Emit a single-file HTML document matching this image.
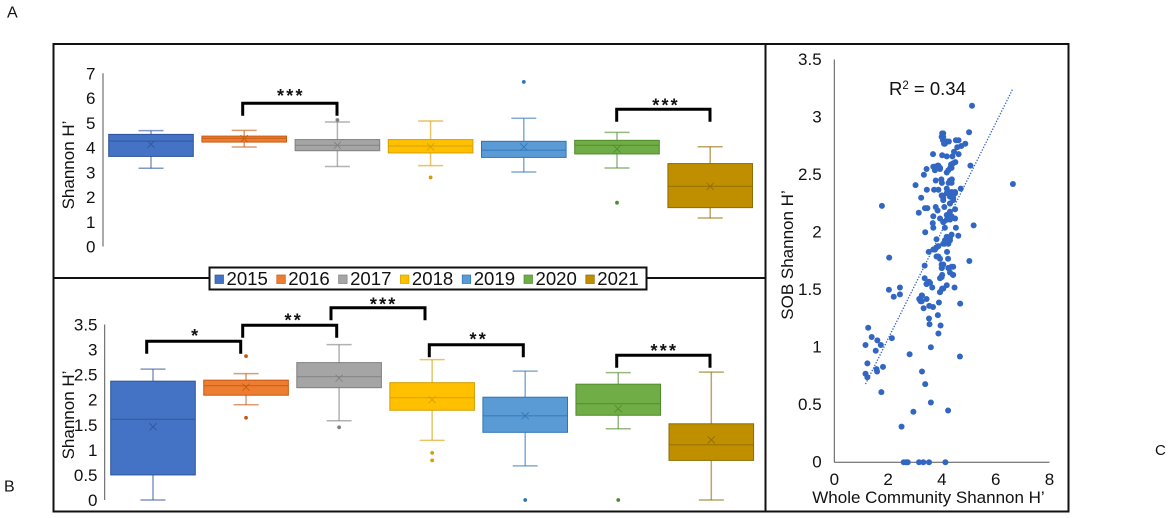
<!DOCTYPE html>
<html lang="en">
<head>
<meta charset="utf-8">
<title>Shannon diversity figure</title>
<style>
html,body{margin:0;padding:0;background:#fff;}
body{width:1169px;height:518px;overflow:hidden;}
svg{display:block;font-family:"Liberation Sans",Arial,sans-serif;fill:#111;filter:blur(0.3px);}
text{fill:#111;}
</style>
</head>
<body>
<svg id="fig" width="1169" height="518" viewBox="0 0 1169 518" xmlns="http://www.w3.org/2000/svg">
  <rect x="0" y="0" width="1169" height="518" fill="#fff"/>
  <text x="7" y="17.5" font-size="16">A</text>
  <text x="4" y="491.5" font-size="16">B</text>
  <text x="1155" y="455" font-size="15">C</text>
  <rect x="53.5" y="44" width="1015" height="467.5" fill="none" stroke="#111" stroke-width="2"/>
  <line x1="765.5" y1="44" x2="765.5" y2="511" stroke="#111" stroke-width="2"/>
  <line x1="53" y1="278" x2="765" y2="278" stroke="#111" stroke-width="2"/>

  <g id="top-chart"></g>
  <g id="bottom-chart"></g>
  <g id="scatter-chart"></g>

  <text transform="translate(74,165) rotate(-90)" text-anchor="middle" x="0" y="0" font-size="17">Shannon H’</text>
  <text transform="translate(74,415) rotate(-90)" text-anchor="middle" x="0" y="0" font-size="17">Shannon H’</text>
  <text transform="translate(793,255) rotate(-90)" text-anchor="middle" x="0" y="0" font-size="17">SOB Shannon H’</text>
  <text x="928.5" y="503" text-anchor="middle" font-size="17">Whole Community Shannon H’</text>
  <text x="889" y="95" font-size="18.5">R<tspan font-size="11.5" dy="-6">2</tspan><tspan dy="6"> = 0.34</tspan></text>

  <g id="legend">
    <rect x="209.5" y="267.5" width="437" height="22" fill="#fff" stroke="#111" stroke-width="2"/>
  </g>
</svg>
<script>
// ---- shared categories and colours ----
var years = ['2015','2016','2017','2018','2019','2020','2021'];
var fills = ['#4472c4','#ed7d31','#a5a5a5','#ffc000','#5b9bd5','#70ad47','#bf8f00'];
var edges = ['#2f5597','#c55a11','#7f7f7f','#d39f00','#2e75b6','#4f8a2c','#8f6b00'];

// ---- panel A (top boxplot) ----
var topTicks = ['0','1','2','3','4','5','6','7'];
var topQ3 = [4.53,4.46,4.32,4.32,4.25,4.29,3.35];
var topQ1 = [3.64,4.22,3.87,3.78,3.60,3.74,1.57];
var topMedian = [4.26,4.37,4.09,4.06,3.89,4.09,2.43];
var topMean = [4.13,4.36,4.09,4.03,4.02,3.94,2.43];
var topWhiskerHigh = [4.68,4.69,5.03,5.07,5.18,4.61,4.03];
var topWhiskerLow = [3.16,4.02,3.23,3.27,3.01,3.17,1.15];
var topOutliers = [[],[],[5.11],[2.79],[6.65],[1.77],[]];

// ---- panel B (bottom boxplot) ----
var bottomTicks = ['0','0.5','1','1.5','2','2.5','3','3.5'];
var bottomQ3 = [2.37,2.39,2.74,2.34,2.05,2.31,1.52];
var bottomQ1 = [0.50,2.09,2.24,1.79,1.35,1.69,0.79];
var bottomMedian = [1.61,2.28,2.46,2.04,1.68,1.92,1.10];
var bottomMean = [1.46,2.25,2.43,2.00,1.68,1.82,1.20];
var bottomWhiskerHigh = [2.61,2.52,3.10,2.80,2.57,2.54,2.55];
var bottomWhiskerLow = [0,1.90,1.58,1.19,0.68,1.42,0];
var bottomOutliers = [[],[2.87,1.64],[1.45],[0.94,0.79],[0],[0],[]];

// ---- panel C (scatter) ----
var scatterXTicks = ['0','2','4','6','8'];
var scatterYTicks = ['0','0.5','1','1.5','2','2.5','3','3.5'];
var trendWhole = [1.16,6.62];
var trendSob = [0.68,3.24];
var wholeCommunity = [
1.16,1.26,1.39,1.60,1.73,1.54,1.23,1.16,1.23,1.57,1.59,1.81,1.75,2.14,2.03,2.21,2.44,2.44,2.80,3.26,
3.38,3.59,4.23,2.94,2.50,4.67,3.59,3.95,3.87,3.54,3.52,3.85,3.89,4.68,3.32,3.53,3.67,3.16,3.21,3.26,
3.43,3.36,3.43,3.52,3.64,3.93,4.01,4.18,4.47,3.97,4.01,4.30,4.41,2.58,2.67,2.73,3.15,3.31,3.52,4.13,
5.12,5.01,4.01,3.99,4.04,4.08,4.18,4.26,4.52,4.62,4.87,4.72,4.57,4.45,4.62,4.39,4.18,4.01,3.67,4.50,
4.34,4.31,4.18,5.06,3.43,3.33,3.68,3.84,3.93,3.74,3.77,3.98,4.00,4.37,4.25,4.18,3.02,3.44,3.71,3.87,
4.01,4.05,4.18,4.36,4.49,4.30,4.42,4.30,4.70,6.64,3.23,1.77,3.37,3.46,3.14,3.77,3.84,4.09,3.68,4.49,
4.30,4.18,4.36,3.93,4.05,4.18,4.49,5.18,3.66,3.68,4.11,4.52,3.38,4.18,4.36,4.61,4.11,4.30,3.80,4.05,
3.87,3.74,3.51,3.68,4.19,2.04,3.80,3.93,4.23,5.02,3.36,4.05,4.00,4.24,4.42,
4.24,4.36,4.42,4.30,4.49,4.36,4.30,3.99,4.05,4.05,4.11,4.18,4.05,4.36,4.24,4.42,3.87,3.74,3.93,
4.24,4.05,4.30,4.18,4.30,4.11,4.24,3.81,3.74,3.87,4.36,4.24,4.42,3.99,3.99,3.99,3.93,3.56,3.43,3.93,4.05,3.25,3.16,3.25
];
var sobShannon = [
1.02,1.17,1.09,1.06,1.02,0.97,0.86,0.77,0.74,0.81,0.79,0.83,0.61,1.08,1.50,1.44,1.52,1.46,0.94,0.79,
0.68,0.52,0.45,0.44,0.31,0.92,1.00,1.19,1.12,1.20,1.25,1.28,1.39,1.38,1.34,1.36,1.35,1.42,1.40,1.45,
1.42,1.60,1.55,1.57,1.52,1.48,1.51,1.54,1.52,1.61,1.63,1.65,1.63,0,0,0,0,0,0,0,
3.10,2.87,2.86,2.83,2.80,2.77,2.79,2.79,2.80,2.80,2.77,2.75,2.74,2.70,2.68,2.66,2.66,2.67,2.68,2.61,
2.59,2.56,2.52,2.58,2.55,2.50,2.57,2.58,2.55,2.54,2.45,2.46,2.43,2.46,2.43,2.38,2.41,2.37,2.37,2.37,
2.32,2.30,2.34,2.35,2.34,2.31,2.28,2.25,2.38,2.42,2.30,2.23,2.21,2.21,2.17,2.22,2.19,2.22,2.14,2.20,
2.18,2.15,2.14,2.12,2.09,2.11,2.12,2.06,2.08,2.04,2.04,2.04,2.00,1.96,1.98,1.97,1.93,1.93,1.94,1.90,
1.88,1.85,1.83,1.85,1.83,1.78,1.79,1.77,1.77,1.75,1.71,1.72,1.69,1.69,1.70,
2.35,2.32,2.30,2.25,2.35,2.43,2.45,2.32,2.28,2.83,2.77,2.79,2.86,2.56,2.54,2.60,2.58,2.57,2.56,
2.15,2.09,2.11,1.96,1.95,1.90,1.90,1.87,1.85,1.79,1.70,1.69,1.63,1.72,1.69,1.61,1.60,1.56,1.55,1.48,1.51,1.45,1.42,1.40
];

var NS = 'http://www.w3.org/2000/svg';
function mk(parent, tag, attrs, txt) {
  var el = document.createElementNS(NS, tag);
  for (var k in attrs) { el.setAttribute(k, attrs[k]); }
  if (txt !== undefined) { el.textContent = txt; }
  parent.appendChild(el);
  return el;
}

function drawBoxPanel(g, cfg) {
  function yScale(v) { return cfg.y0 - v * cfg.unit; }
  function xScale(i) { return cfg.x0 + i * cfg.step; }

  var axis = mk(g, 'line', {x1: cfg.axisX, x2: cfg.axisX, y1: yScale(cfg.axisMax), y2: yScale(0), stroke: '#555', 'stroke-width': 1});
  
  

  cfg.ticks.forEach(function (label) {
    var t = mk(g, 'text', {x: cfg.labelX, y: yScale(parseFloat(label)) + 6, 'text-anchor': 'end', 'font-size': 17}, label);
    
    
  });

  years.forEach(function (year, i) {
    var cx = xScale(i), hw = 42.3, capHw = 12.5;
    var group = mk(g, 'g', {});
    
    

    var stem = mk(group, 'line', {x1: cx, x2: cx, y1: yScale(cfg.whiskerHigh[i]), y2: yScale(cfg.whiskerLow[i]), stroke: edges[i], 'stroke-width': 1.5, 'stroke-opacity': 0.6});
    
    

    [cfg.whiskerHigh[i], cfg.whiskerLow[i]].forEach(function (v) {
      var cap = mk(group, 'line', {x1: cx - capHw, x2: cx + capHw, y1: yScale(v), y2: yScale(v), stroke: edges[i], 'stroke-width': 1.5, 'stroke-opacity': 0.6});
      
      
    });

    var box = mk(group, 'rect', {x: cx - hw, y: yScale(cfg.q3[i]), width: hw * 2, height: yScale(cfg.q1[i]) - yScale(cfg.q3[i]), fill: fills[i], stroke: edges[i], 'stroke-width': 1});
    
    

    var med = mk(group, 'line', {x1: cx - hw, x2: cx + hw, y1: yScale(cfg.median[i]), y2: yScale(cfg.median[i]), stroke: edges[i], 'stroke-width': 1.1, 'stroke-opacity': 0.8});
    
    

    var my = yScale(cfg.mean[i]), s = 3.6;
    var mean = mk(group, 'path', {d: 'M' + (cx - s) + ' ' + (my - s) + 'L' + (cx + s) + ' ' + (my + s) + 'M' + (cx - s) + ' ' + (my + s) + 'L' + (cx + s) + ' ' + (my - s), stroke: edges[i], 'stroke-width': 0.8, fill: 'none'});
    
    

    cfg.outliers[i].forEach(function (v) {
      var o = mk(group, 'circle', {cx: cx, cy: yScale(v), r: 1.9, fill: edges[i]});
      
      
    });
  });
}

drawBoxPanel(document.getElementById('top-chart'), {
  y0: 246.5, unit: 24.75, x0: 151, step: 93.2, axisX: 103, axisMax: 7, labelX: 95.5,
  ticks: topTicks, q3: topQ3, q1: topQ1, median: topMedian, mean: topMean,
  whiskerHigh: topWhiskerHigh, whiskerLow: topWhiskerLow, outliers: topOutliers
});
drawBoxPanel(document.getElementById('bottom-chart'), {
  y0: 500, unit: 50.14, x0: 153, step: 93.05, axisX: 104.7, axisMax: 3.5, labelX: 97.5,
  ticks: bottomTicks, q3: bottomQ3, q1: bottomQ1, median: bottomMedian, mean: bottomMean,
  whiskerHigh: bottomWhiskerHigh, whiskerLow: bottomWhiskerLow, outliers: bottomOutliers
});

// ---- significance brackets ----
var bracketLeft = [242.7,616.7,146.7,242.7,331,429.3,616.7];
var bracketRight = [337,710,240.7,336.7,425,523.3,710];
var bracketTop = [103.3,109.3,341.3,325.3,307.7,344.7,355.3];
var bracketStars = ['***','***','*','**','***','**','***'];
var bracketStarShiftX = [1,2.7,2,4,5.7,2.4,1];
var bracketStarShiftY = [-1.3,2.1,0.7,1.1,2.7,1,1.7];
var svgRoot = document.getElementById('fig');
bracketLeft.forEach(function (l, i) {
  var r = bracketRight[i], t = bracketTop[i];
  var b = mk(svgRoot, 'path', {d: 'M' + l + ' ' + (t + 12.5) + 'V' + t + 'H' + r + 'V' + (t + 12.5), fill: 'none', stroke: '#000', 'stroke-width': 3});
  
  
  var st = mk(svgRoot, 'text', {x: (l + r) / 2 + bracketStarShiftX[i], y: t + bracketStarShiftY[i], 'text-anchor': 'middle', 'font-size': 18, 'letter-spacing': 2.2, 'font-weight': 'bold'}, bracketStars[i]);
  
  
});

// ---- legend ----
var legendG = document.getElementById('legend');
years.forEach(function (year, i) {
  var x = 215 + i * 61.8;
  var sw = mk(legendG, 'rect', {x: x, y: 275, width: 8.5, height: 8.5, fill: fills[i], stroke: edges[i], 'stroke-width': 0.7});
  
  
  var tx = mk(legendG, 'text', {x: x + 11.5, y: 285, 'font-size': 18.6}, year);
  
  
});

// ---- scatter ----
var sc = document.getElementById('scatter-chart');
function sx(v) { return 834.3 + v * 26.9; }
function sy(v) { return 462.3 - v * 115; }

var yAxisLine = mk(sc, 'line', {x1: sx(0), x2: sx(0), y1: 59.5, y2: sy(0), stroke: '#555', 'stroke-width': 1});


var xAxisLine = mk(sc, 'line', {x1: sx(0), x2: sx(8), y1: sy(0), y2: sy(0), stroke: '#555', 'stroke-width': 1});



scatterYTicks.forEach(function (label) {
  var t = mk(sc, 'text', {x: 821.7, y: sy(parseFloat(label)) + 5, 'text-anchor': 'end', 'font-size': 17}, label);
  
  
});
scatterXTicks.forEach(function (label) {
  var t = mk(sc, 'text', {x: sx(parseFloat(label)), y: 485, 'text-anchor': 'middle', 'font-size': 17}, label);
  
  
});

var trend = mk(sc, 'line', {x1: sx(trendWhole[0]), y1: sy(trendSob[0]), x2: sx(trendWhole[1]), y2: sy(trendSob[1]), stroke: '#2f62c0', 'stroke-width': 1.3, 'stroke-dasharray': '1.3 1.6'});



wholeCommunity.forEach(function (v, i) {
  var c = mk(sc, 'circle', {cx: sx(v), cy: sy(sobShannon[i]), r: 3, fill: '#3266c3'});
  
  
});
</script>
</body>
</html>
